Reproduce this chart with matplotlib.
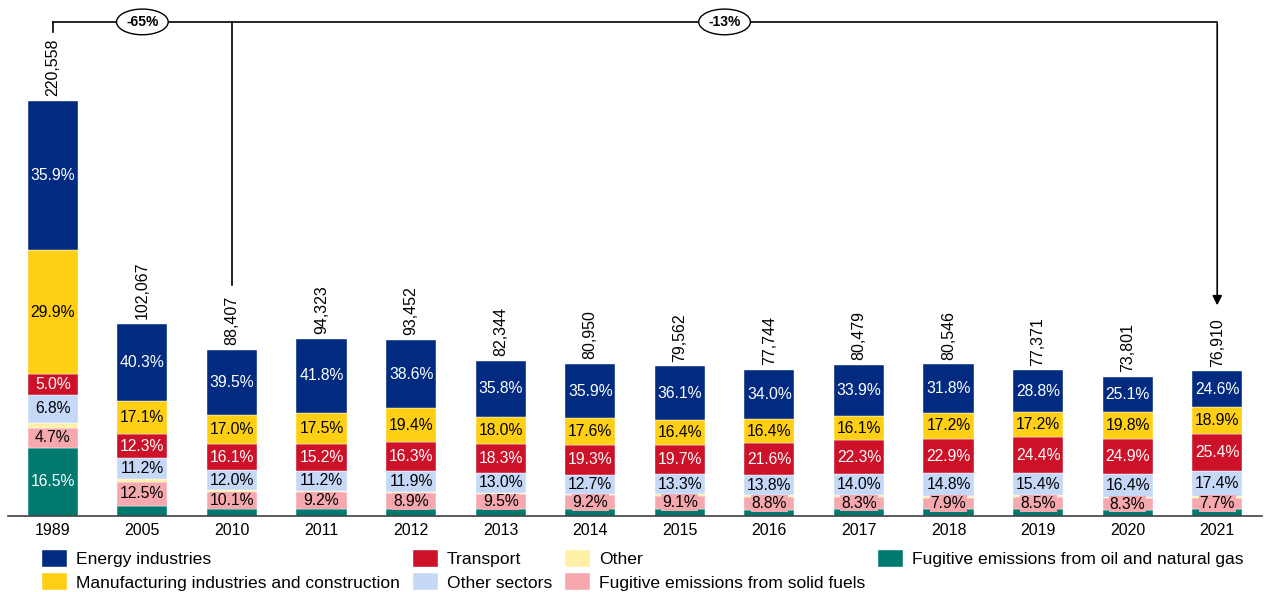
import matplotlib.pyplot as plt
import numpy as np

plt.rcParams['font.family'] = ['Liberation Sans', 'DejaVu Sans']

years = ['1989', '2005', '2010', '2011', '2012', '2013', '2014', '2015',
         '2016', '2017', '2018', '2019', '2020', '2021']
totals = [220558, 102067, 88407, 94323, 93452, 82344, 80950, 79562,
          77744, 80479, 80546, 77371, 73801, 76910]

# shares in percent, stacked bottom -> top
oil_gas = [16.5, 5.3, 4.2, 4.1, 3.9, 4.4, 4.3, 4.4, 4.3, 4.3, 4.3, 4.5, 4.4, 4.8]
solid = [4.7, 12.5, 10.1, 9.2, 8.9, 9.5, 9.2, 9.1, 8.8, 8.3, 7.9, 8.5, 8.3, 7.7]
other = [1.2, 1.3, 1.1, 1.0, 1.0, 1.0, 1.0, 1.0, 1.1, 1.1, 1.1, 1.2, 1.1, 1.2]
other_sec = [6.8, 11.2, 12.0, 11.2, 11.9, 13.0, 12.7, 13.3, 13.8, 14.0, 14.8, 15.4, 16.4, 17.4]
transport = [5.0, 12.3, 16.1, 15.2, 16.3, 18.3, 19.3, 19.7, 21.6, 22.3, 22.9, 24.4, 24.9, 25.4]
manuf = [29.9, 17.1, 17.0, 17.5, 19.4, 18.0, 17.6, 16.4, 16.4, 16.1, 17.2, 17.2, 19.8, 18.9]
energy = [35.9, 40.3, 39.5, 41.8, 38.6, 35.8, 35.9, 36.1, 34.0, 33.9, 31.8, 28.8, 25.1, 24.6]

series = [
    ('Fugitive emissions from oil and natural gas', oil_gas, '#007A6E', 'white', True),
    ('Fugitive emissions from solid fuels', solid, '#F6A8AF', 'black', True),
    ('Other', other, '#FFF0A6', 'black', False),
    ('Other sectors', other_sec, '#C6D8F8', 'black', True),
    ('Transport', transport, '#CC1128', 'white', True),
    ('Manufacturing industries and construction', manuf, '#FFCF14', 'black', True),
    ('Energy industries', energy, '#002B80', 'white', True),
]

fig = plt.figure(figsize=(12.73, 5.92), dpi=100)
ax = fig.add_axes([8 / 1273, 76 / 592, 1254 / 1273, 516 / 592])

x = np.arange(len(years))
tot = np.array(totals, dtype=float)
bottom = np.zeros(len(years))
handles = {}
for name, pct, col, tcol, lab in series:
    vals = tot * np.array(pct) / 100
    b = ax.bar(x, vals, 0.56, bottom=bottom, color=col, edgecolor='white', linewidth=0.3)
    handles[name] = b
    if lab:
        for i in range(len(years)):
            if name == 'Fugitive emissions from oil and natural gas' and i > 0:
                continue
            kw = {}
            if name == 'Fugitive emissions from solid fuels':
                kw['bbox'] = dict(boxstyle='square,pad=0.05', fc=col, ec='none')
            ax.text(x[i], bottom[i] + vals[i] / 2, f'{pct[i]:.1f}%', ha='center',
                    va='center', color=tcol, fontsize=11.3, **kw)
    bottom += vals

for i in range(len(years)):
    ax.text(x[i], tot[i] + 2500, f'{totals[i]:,}', rotation=90, ha='center',
            va='bottom', fontsize=11.5)

# change annotations
ytop = 262600
ax.plot([0, 13], [ytop, ytop], color='black', lw=1.2)
ax.plot([0, 0], [ytop, 257000], color='black', lw=1.2)
ax.plot([2, 2], [ytop, 122800], color='black', lw=1.2)
ax.annotate('', xy=(13, 110500), xytext=(13, ytop + 600),
            arrowprops=dict(arrowstyle='-|>', color='black', lw=1.2, mutation_scale=14))
ell = dict(boxstyle='ellipse,pad=0.15', fc='white', ec='black', lw=1)
ax.text(1.0, ytop, '-65%', ha='center', va='center', fontsize=10, fontweight='bold', bbox=ell)
ax.text(7.5, ytop, '-13%', ha='center', va='center', fontsize=10, fontweight='bold', bbox=ell)

ax.set_xlim(-0.5, 13.5)
ax.set_ylim(0, 274250)
ax.set_xticks(x)
ax.set_xticklabels(years, fontsize=11.5)
ax.tick_params(axis='x', length=0, pad=5)
ax.set_yticks([])
for s in ['top', 'right', 'left']:
    ax.spines[s].set_visible(False)
ax.spines['bottom'].set_color('#404040')
ax.spines['bottom'].set_linewidth(1.2)

order = ['Energy industries', 'Manufacturing industries and construction',
         'Transport', 'Other sectors', 'Other', 'Fugitive emissions from solid fuels',
         'Fugitive emissions from oil and natural gas']
fig.legend([handles[n] for n in order], order, loc='upper left',
           bbox_to_anchor=(42 / 1273, 1 - 550 / 592), ncol=4, frameon=False,
           fontsize=12.6, borderpad=0, borderaxespad=0, handlelength=1.43,
           handleheight=1.1, handletextpad=0.5, columnspacing=0.75, labelspacing=0.35)

plt.savefig('out.png', dpi=100)
